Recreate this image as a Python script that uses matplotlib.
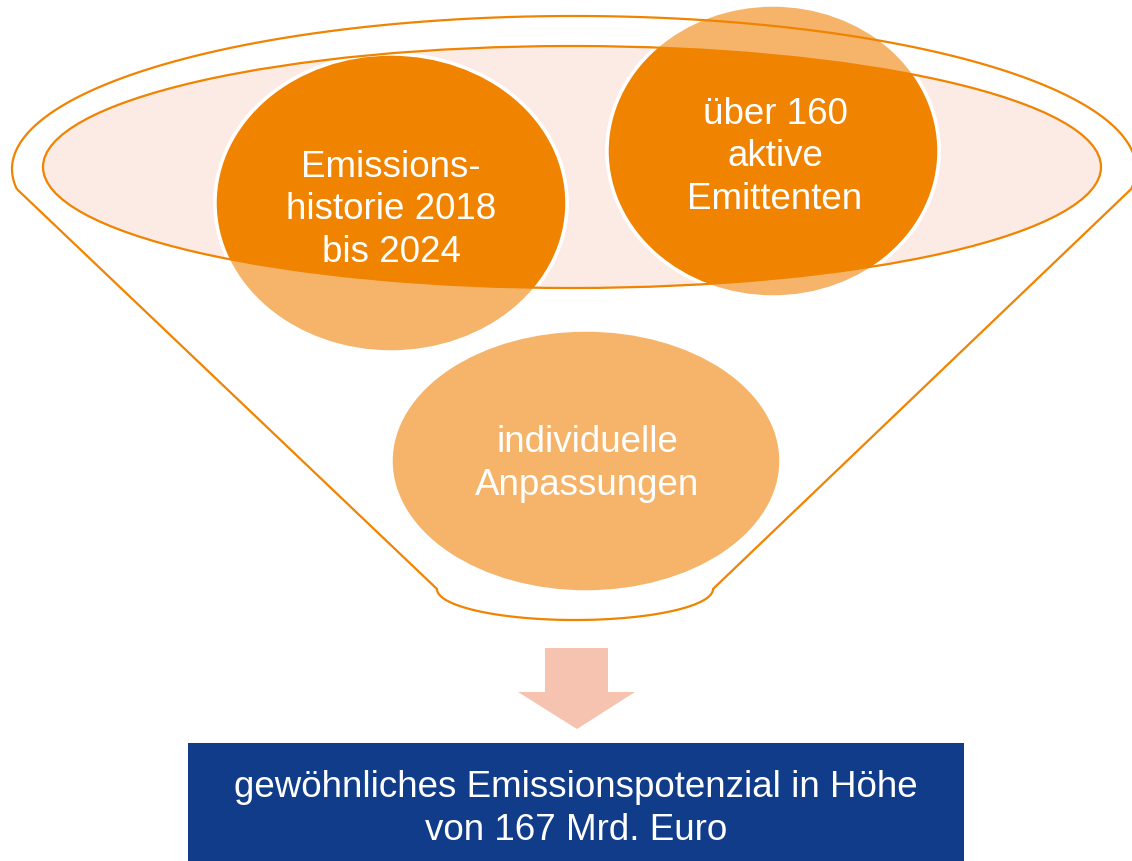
import numpy as np
import matplotlib
matplotlib.use("Agg")
import matplotlib.pyplot as plt
from matplotlib.patches import Ellipse, Polygon, Rectangle

# ---- content ----
circle_labels = ["Emissions-\nhistorie 2018\nbis 2024",
                 "über 160\naktive\nEmittenten",
                 "individuelle\nAnpassungen"]
result_label = "gewöhnliches Emissionspotenzial in Höhe\nvon 167 Mrd. Euro"

# ---- layout (pixel coordinates, y downwards) ----
circle_centers = [(391, 204), (773, 152), (586, 462)]
circle_sizes = [(352, 298), (332, 292), (390, 262)]
text_centers = [(391, 210), (775, 157), (587, 464)]

ORANGE = "#F08300"
LIGHT_ORANGE = "#F5B469"
PINK = "#FCEAE4"
ARROW = "#F5C3AF"
BLUE = "#103C8A"

W, H = 1132, 862
fig = plt.figure(figsize=(W / 100, H / 100), dpi=100)
ax = fig.add_axes([0, 0, 1, 1])
ax.set_xlim(0, W)
ax.set_ylim(H, 0)
ax.axis("off")

FONT = ["Liberation Sans", "DejaVu Sans"]

# funnel outline
ocx, ocy, oa, ob = 574, 170, 562, 153
phi0 = np.arcsin(20 / ob)
t = np.linspace(np.pi + phi0, -phi0, 300)
top_x = ocx + oa * np.cos(t)
top_y = ocy - ob * np.sin(t)
bcx, bcy, ba, bb = 575, 590, 138, 31
tb = np.linspace(0, np.pi, 150)
bot_x = bcx + ba * np.cos(tb)
bot_y = bcy + bb * np.sin(tb)
xs = np.concatenate([top_x, bot_x])
ys = np.concatenate([top_y, bot_y])
ax.add_patch(Polygon(np.column_stack([xs, ys]), closed=True, facecolor="white",
                     edgecolor="none", zorder=1))
ax.add_patch(Polygon(np.column_stack([xs, ys]), closed=True, facecolor="none",
                     edgecolor=ORANGE, lw=1.6, zorder=6))

# inner ellipse
inner = Ellipse((572, 168), 1058, 242, facecolor=PINK, edgecolor="none", zorder=2)
ax.add_patch(inner)
ax.add_patch(Ellipse((572, 168), 1058, 242, facecolor="none", edgecolor=ORANGE,
                     lw=1.6, zorder=6))

# circles
for (cx, cy), (w, h) in zip(circle_centers, circle_sizes):
    ax.add_patch(Ellipse((cx, cy), w, h, facecolor=LIGHT_ORANGE, edgecolor="white",
                         lw=2.5, zorder=3))
    d = Ellipse((cx, cy), w, h, facecolor=ORANGE, edgecolor="white", lw=2.5, zorder=4)
    ax.add_patch(d)
    d.set_clip_path(inner)

for (tx, ty), lab in zip(text_centers, circle_labels):
    ax.text(tx, ty, lab, ha="center", va="center", color="white", fontsize=26.5,
            family=FONT, linespacing=1.26, zorder=7)

# arrow
arrow_pts = [(545, 649), (608, 649), (608, 693), (635, 693), (577, 730),
             (518, 693), (545, 693)]
ax.add_patch(Polygon(arrow_pts, closed=True, facecolor=ARROW, edgecolor="none", zorder=3))

# result box
ax.add_patch(Rectangle((188, 744), 776, 120, facecolor=BLUE, edgecolor="none", zorder=3))
ax.text(576, 809, result_label, ha="center", va="center", color="white", fontsize=26.5,
        family=FONT, linespacing=1.26, zorder=7)

fig.savefig("out.png", dpi=100)
